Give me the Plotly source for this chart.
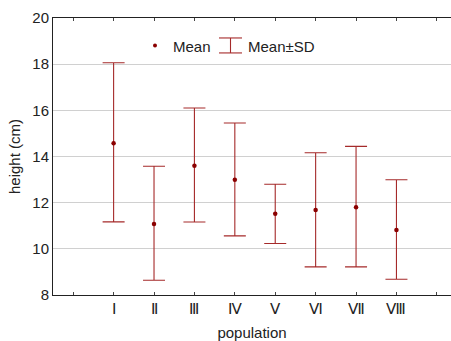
import plotly.graph_objects as go

categories = ["Ⅰ", "Ⅱ", "Ⅲ", "Ⅳ", "Ⅴ", "Ⅵ", "Ⅶ", "Ⅷ"]
means = [14.57, 11.08, 13.60, 12.99, 11.52, 11.68, 11.80, 10.82]
upper = [18.06, 13.58, 16.10, 15.45, 12.80, 14.16, 14.44, 12.99]
lower = [11.17, 8.64, 11.16, 10.56, 10.23, 9.22, 9.22, 8.68]
y_ticks = [8, 10, 12, 14, 16, 18, 20]

x = [i + 1 for i in range(len(categories))]
err_plus = [u - m for u, m in zip(upper, means)]
err_minus = [m - l for m, l in zip(means, lower)]

RED = "#8B0000"
ERR = "#A52A2A"
FONT = "Liberation Sans, Arial, sans-serif"
FS = 15

L, T, W, H = 53, 17.5, 398, 277.5


def px(xp):
    return (xp - L) / W


def py(yp):
    return 1 - (yp - T) / H


fig = go.Figure()
fig.add_trace(go.Scatter(
    x=x, y=means, mode="markers", name="Mean",
    marker=dict(color=RED, size=4.5, symbol="circle"),
    error_y=dict(type="data", symmetric=False, array=err_plus, arrayminus=err_minus,
                 color=ERR, thickness=1.1, width=11),
    showlegend=False, hoverinfo="skip",
))

# manual legend
fig.add_shape(type="circle", xref="paper", yref="paper",
              x0=px(155 - 2), x1=px(155 + 2), y0=py(45 + 2), y1=py(45 - 2),
              fillcolor=RED, line=dict(width=0))
fig.add_annotation(text="Mean", xref="paper", yref="paper",
                   x=px(171), y=py(46),
                   xanchor="left", yanchor="middle", showarrow=False,
                   font=dict(size=FS, color="#222", family=FONT))
for (x0, y0, x1, y1) in [(219, 37.5, 242, 37.5), (219, 52.5, 242, 52.5), (230.5, 37.5, 230.5, 52.5)]:
    fig.add_shape(type="line", xref="paper", yref="paper",
                  x0=px(x0), x1=px(x1), y0=py(y0), y1=py(y1),
                  line=dict(color=ERR, width=1.1))
fig.add_annotation(text="Mean±SD", xref="paper", yref="paper",
                   x=px(246), y=py(46),
                   xanchor="left", yanchor="middle", showarrow=False,
                   font=dict(size=FS, color="#222", family=FONT))

fig.update_layout(
    width=451, height=341,
    margin=dict(l=L, r=0, t=T, b=341 - T - H),
    paper_bgcolor="white", plot_bgcolor="white",
    font=dict(family=FONT, size=FS, color="#222"),
    showlegend=False,
)
fig.update_xaxes(
    range=[-0.5, 9.35], automargin=False,
    tickvals=list(range(0, len(categories) + 2)),
    ticktext=[""] + categories + [""],
    showgrid=False, zeroline=False,
    showline=True, linecolor="#222", linewidth=1, mirror="ticks",
    ticks="inside", ticklen=3, tickcolor="#444",
    tickfont=dict(size=FS, family=FONT),
    title=dict(text="population", font=dict(size=FS, family=FONT), standoff=12),
)
fig.update_yaxes(
    range=[8, 20], tickvals=y_ticks, automargin=False,
    showgrid=True, gridcolor="#d0d0d0", gridwidth=1, zeroline=False,
    showline=True, linecolor="#222", linewidth=1, mirror=False,
    ticks="", tickfont=dict(size=FS, family=FONT),
    title=dict(text="height (cm)", font=dict(size=FS, family=FONT), standoff=8),
)

fig.write_html("out.html", config={"displayModeBar": False},
               post_script="document.body.style.margin='0px';document.body.style.overflow='hidden';")
